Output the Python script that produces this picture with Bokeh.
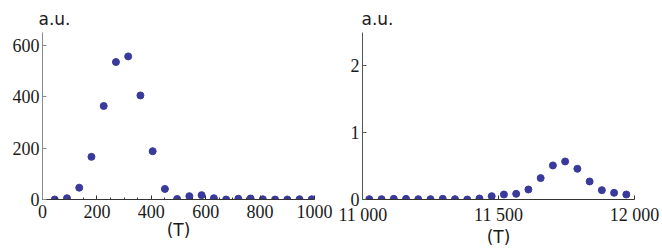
from bokeh.plotting import figure
from bokeh.layouts import row
from bokeh.models import FixedTicker, Range1d, Title
from bokeh.embed import file_html
from bokeh.resources import INLINE

# Data
x_left = [45, 90, 135, 180, 225, 270, 315, 360, 405, 450, 495, 540, 585, 630, 675, 720, 765, 810, 855, 900, 945, 990]
y_left = [0, 5, 46, 166, 364, 535, 557, 405, 188, 41, 2, 13, 17, 5, 0, 3, 4, 1, 0, 0, 1, 1]

x_right = [11025, 11070, 11115, 11160, 11205, 11250, 11295, 11340, 11385, 11430, 11475,
           11520, 11565, 11610, 11655, 11700, 11745, 11790, 11835, 11880, 11925, 11970]
y_right = [0.005, 0.005, 0.01, 0.01, 0.005, 0.005, 0.01, 0.005, 0.0, 0.015, 0.05,
           0.075, 0.085, 0.15, 0.32, 0.51, 0.57, 0.46, 0.27, 0.14, 0.10, 0.075]

left_xrange = (0, 1000)
left_yrange = (0, 650)
left_xticks = [0, 200, 400, 600, 800, 1000]
left_xminor = [50, 100, 150, 250, 300, 350, 450, 500, 550, 650, 700, 750, 850, 900, 950]
left_yticks = [0, 200, 400, 600]
right_xrange = (11000, 12000)
right_yrange = (0, 2.5)
right_xticks = [11000, 11500, 12000]
right_xlabels = {11000: "11 000", 11500: "11 500", 12000: "12 000"}
right_yticks = [0, 1, 2]
x_title = "(T)"
y_title = "a.u."

DOT = "#3a3a9c"
SERIF = "Liberation Serif"
SANS = "DejaVu Sans"


def style(p, xticks, yticks, xminor=None, yaxis_color="#808080"):
    p.grid.visible = False
    p.outline_line_color = None
    p.background_fill_color = "white"
    p.border_fill_color = "white"
    for ax in (p.xaxis[0], p.yaxis[0]):
        ax.major_tick_in = 4
        ax.major_tick_out = 0
        ax.minor_tick_in = 2
        ax.minor_tick_out = 0
        ax.major_label_text_font = SERIF
        ax.major_label_text_font_size = "18px"
        ax.major_label_text_color = "#1a1a1a"
        ax.major_label_text_line_height = 1.0
        ax.axis_line_width = 1
    p.xaxis[0].ticker = FixedTicker(ticks=xticks, minor_ticks=xminor or [])
    p.yaxis[0].ticker = FixedTicker(ticks=yticks, minor_ticks=[])
    p.xaxis[0].axis_line_color = "#333333"
    p.xaxis[0].major_tick_line_color = "#333333"
    p.xaxis[0].minor_tick_line_color = "#333333"
    p.yaxis[0].axis_line_color = yaxis_color
    p.yaxis[0].major_tick_line_color = yaxis_color
    p.xaxis[0].major_label_standoff = 5
    p.yaxis[0].major_label_standoff = 3
    p.xaxis[0].axis_label = x_title
    p.xaxis[0].axis_label_text_font = SANS
    p.xaxis[0].axis_label_text_font_size = "17px"
    p.xaxis[0].axis_label_text_font_style = "normal"
    p.xaxis[0].axis_label_text_color = "#1a1a1a"
    p.xaxis[0].axis_label_text_line_height = 1.0
    p.xaxis[0].axis_label_standoff = -1


p1 = figure(width=338, height=249, output_backend="svg", toolbar_location=None,
            x_range=Range1d(*left_xrange), y_range=Range1d(*left_yrange),
            min_border_left=42, min_border_right=24, min_border_top=32, min_border_bottom=49)
p1.title = Title(text=y_title, align="left", offset=-4, text_font=SANS,
                 text_font_size="17px", text_font_style="normal", text_color="#1a1a1a", standoff=7)
p1.scatter(x_left, y_left, size=7, color=DOT)
style(p1, left_xticks, left_yticks, left_xminor, "#8a8a8a")

p2 = figure(width=324, height=249, output_backend="svg", toolbar_location=None,
            x_range=Range1d(*right_xrange), y_range=Range1d(*right_yrange),
            min_border_left=24, min_border_right=28, min_border_top=32, min_border_bottom=49)
p2.title = Title(text=y_title, align="left", offset=-1, text_font=SANS,
                 text_font_size="17px", text_font_style="normal", text_color="#1a1a1a", standoff=7)
p2.scatter(x_right, y_right, size=7, color=DOT)
style(p2, right_xticks, right_yticks, None, "#555555")
p2.xaxis[0].major_label_overrides = right_xlabels

layout = row(p1, p2, spacing=0)
open("out.html", "w").write(file_html(layout, INLINE))
